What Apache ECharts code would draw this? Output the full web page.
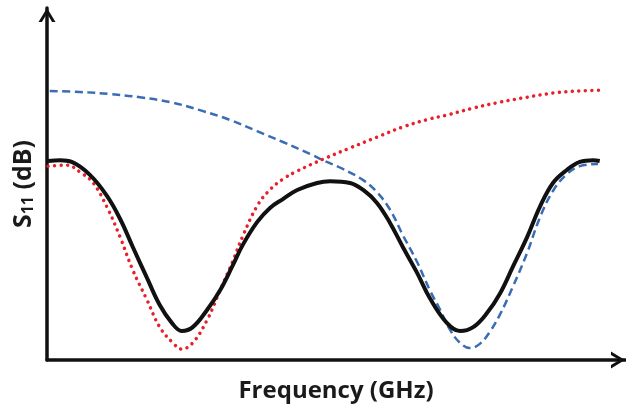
<!DOCTYPE html>
<html>
<head>
<meta charset="utf-8">
<script src="https://cdn.jsdelivr.net/npm/echarts@6/dist/echarts.min.js"></script>
<style>
html,body{margin:0;padding:0;background:#fff;}
#chart{width:626px;height:409px;}
</style>
</head>
<body>
<div id="chart"></div>
<script>
// Frequency (arbitrary units) and S11 (arbitrary dB units)
var blackX = [0.02,0.24,0.45,0.78,1.09,1.33,1.56,1.82,2.05,2.27,2.45,2.65,2.91,3.15,3.38,3.56,3.82,4.05,4.29,4.55,4.91,5.15,5.51,5.75,6.00,6.24,6.47,6.73,6.96,7.27,7.51,7.75,8.00,8.24,8.47,8.73,8.96,9.20,9.45,9.69,9.93,10.05];
var blackY = [5.69,5.71,5.66,5.29,4.69,4.03,3.23,2.34,1.57,1.06,0.83,0.94,1.43,2.00,2.71,3.29,3.94,4.34,4.60,4.86,5.06,5.11,5.06,4.86,4.49,3.91,3.23,2.49,1.77,1.06,0.83,0.94,1.34,1.91,2.66,3.51,4.37,5.06,5.43,5.66,5.71,5.69];

var redX = [0.02,0.36,0.60,0.84,1.09,1.33,1.56,1.82,2.05,2.29,2.45,2.65,2.91,3.15,3.38,3.56,3.82,4.05,4.29,4.55,5.02,5.51,6.00,6.47,6.96,7.27,7.75,8.24,8.73,9.20,9.69,10.05];
var redY = [5.54,5.57,5.37,5.06,4.37,3.51,2.57,1.71,0.94,0.49,0.31,0.49,1.14,2.00,2.83,3.54,4.40,4.86,5.17,5.40,5.74,6.06,6.37,6.66,6.89,7.00,7.20,7.37,7.51,7.63,7.69,7.71];

var blueX = [0.05,0.60,1.15,1.69,2.24,2.78,3.33,3.82,4.29,4.78,5.02,5.38,5.75,6.00,6.24,6.47,6.73,6.96,7.15,7.33,7.51,7.69,7.87,8.05,8.24,8.47,8.73,8.96,9.20,9.45,9.69,10.02];
var blueY = [7.69,7.66,7.60,7.51,7.37,7.14,6.86,6.54,6.23,5.89,5.71,5.46,5.14,4.80,4.29,3.57,2.80,2.00,1.43,0.86,0.49,0.34,0.46,0.80,1.31,2.09,3.06,4.06,4.83,5.31,5.54,5.60];

var xName = 'Frequency (GHz)';
var yNameParts = ['S', '11', ' (dB)'];

function pairs(xs, ys) {
  return xs.map(function (x, i) { return [x, ys[i]]; });
}

var chevron = 'path://M0,14 L8.5,0 L17,14 L13.6,14 L8.5,5.6 L3.4,14 Z';
var font = '"Open Sans", "Noto Sans", sans-serif';

var chart = echarts.init(document.getElementById('chart'));
chart.setOption({
  animation: false,
  backgroundColor: '#ffffff',
  grid: { left: 47, right: 1, top: 8, bottom: 49 },
  xAxis: {
    type: 'value', min: 0, max: 10.51,
    splitLine: { show: false }, axisTick: { show: false }, axisLabel: { show: false },
    axisLine: {
      show: true, symbol: ['none', chevron], symbolSize: [17, 14], symbolOffset: [0, -7],
      lineStyle: { color: '#111111', width: 3.5 }
    },
    name: xName, nameLocation: 'middle', nameGap: 19,
    nameTextStyle: { color: '#1a1a1a', fontSize: 24, fontWeight: 'bold', fontFamily: font }
  },
  yAxis: {
    type: 'value', min: 0, max: 10.06,
    splitLine: { show: false }, axisTick: { show: false }, axisLabel: { show: false },
    axisLine: {
      show: true, symbol: ['none', chevron], symbolSize: [17, 14], symbolOffset: [0, -7],
      lineStyle: { color: '#111111', width: 3.5 }
    },
    name: '{a|' + yNameParts[0] + '}{s|' + yNameParts[1] + '}{a|' + yNameParts[2] + '}',
    nameLocation: 'middle', nameGap: 11, nameRotate: 90,
    nameTextStyle: {
      color: '#1a1a1a', fontFamily: font,
      rich: {
        a: { fontSize: 25, fontWeight: 'bold', fontFamily: font, color: '#1a1a1a', verticalAlign: 'bottom', lineHeight: 30 },
        s: { fontSize: 16, fontWeight: 'bold', fontFamily: font, color: '#1a1a1a', verticalAlign: 'bottom', lineHeight: 26 }
      }
    }
  },
  series: [
    {
      type: 'line', data: pairs(blueX, blueY), smooth: 0.4, symbol: 'none', z: 2,
      lineStyle: { color: '#3a6db3', width: 2.5, type: [8, 4.5] }
    },
    {
      type: 'line', data: pairs(redX, redY), smooth: 0.4, symbol: 'none', z: 3,
      lineStyle: { color: '#e8202a', width: 3.5, type: [0.01, 6.5], cap: 'round' }
    },
    {
      type: 'line', data: pairs(blackX, blackY), smooth: 0.4, symbol: 'none', z: 4,
      lineStyle: { color: '#111111', width: 4 }
    }
  ]
});
</script>
</body>
</html>
